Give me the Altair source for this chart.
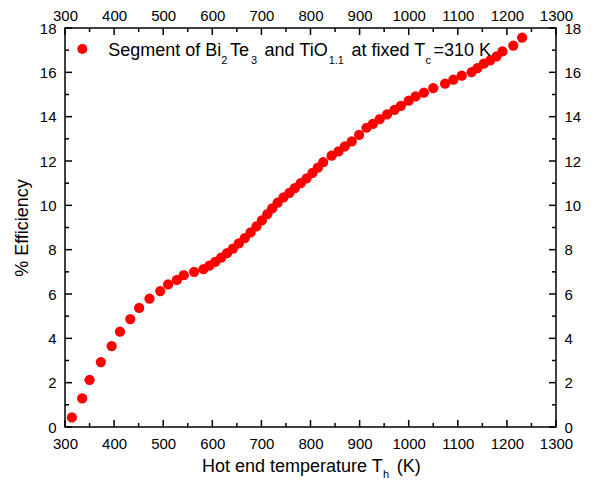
import altair as alt
import pandas as pd

# ---- data ----
temps = [314, 335, 350, 373, 395, 412, 433, 451, 472, 494, 510, 528, 542, 563,
         582, 594, 606, 618, 630, 642, 654, 666, 678, 690, 701, 712, 722, 733,
         745, 757, 768, 780, 792, 804, 815, 826, 843, 857, 870, 884, 899, 914,
         927, 941, 956, 971, 984, 1000, 1014, 1031, 1050, 1074, 1091, 1108,
         1128, 1140, 1153, 1166, 1179, 1191, 1213, 1231]
eff = [0.43, 1.29, 2.13, 2.93, 3.65, 4.3, 4.87, 5.37, 5.79, 6.13, 6.43, 6.64, 6.85, 7.0,
       7.12, 7.28, 7.45, 7.64, 7.84, 8.05, 8.28, 8.52, 8.78, 9.05, 9.32, 9.6, 9.86, 10.12,
       10.36, 10.56, 10.78, 11.0, 11.22, 11.46, 11.7, 11.95, 12.24, 12.43, 12.66, 12.88, 13.18, 13.5,
       13.67, 13.89, 14.1, 14.31, 14.49, 14.72, 14.91, 15.09, 15.29, 15.49, 15.67, 15.85,
       16.01, 16.19, 16.39, 16.54, 16.72, 16.94, 17.21, 17.57]

x_major = list(range(300, 1301, 100))
x_minor = list(range(350, 1300, 100))
y_major = list(range(0, 19, 2))
y_minor = list(range(1, 18, 2))

legend_parts = [("Segment of Bi", False), ("2", True), ("Te", False), ("3", True),
                (" and TiO", False), ("1.1", True), (" at fixed T", False), ("c", True),
                ("=310 K", False)]
xtitle_parts = [("Hot end temperature T", False), ("h", True), (" (K)", False)]
ytitle = "% Efficiency"

# ---- layout ----
W, H = 491, 399
FONT = "Liberation Sans"
MAIN_FS, SUB_FS = 18, 11
RED = "#ff0000"

AW = {'S': 667, 'e': 556, 'g': 556, 'm': 833, 'n': 556, 't': 278, ' ': 278, 'o': 556,
      'f': 278, 'B': 667, 'i': 222, 'T': 611, 'a': 556, 'd': 556, 'O': 778, '1': 556,
      '2': 556, '3': 556, '0': 556, '.': 278, 'x': 500, 'c': 500, '=': 584, 'K': 667,
      'H': 722, 'h': 556, 'r': 333, 'p': 556, 'u': 556, '(': 333, ')': 333}


def twidth(s, fs):
    return sum(AW.get(ch, 556) for ch in s) * fs / 1000.0


def rich_text(parts, x0, base, sub_drop=8, sub_gap=2.5):
    layers = []
    x = x0
    for txt, sub in parts:
        fs = SUB_FS if sub else MAIN_FS
        lead = len(txt) - len(txt.lstrip(" "))
        xs_ = x + twidth(" " * lead, fs)
        layers.append(
            alt.Chart(pd.DataFrame({"t": [txt.strip()]})).mark_text(
                align="left", baseline="alphabetic", font=FONT, fontSize=fs, color="black"
            ).encode(text="t:N", x=alt.value(xs_), y=alt.value(base + (sub_drop if sub else 0)))
        )
        x += twidth(txt, fs) + (sub_gap if sub else 0)
    return layers


df = pd.DataFrame({"T": temps, "E": eff})
xsc = alt.Scale(domain=[300, 1300], nice=False, zero=False)
ysc = alt.Scale(domain=[0, 18], nice=False, zero=False)

ax = dict(ticks=False, tickSize=0, domain=False, grid=False, labelFontSize=15,
          labelFont=FONT, labelColor="black", format="d",
          labelOverlap=False, labelFlush=False)

points = alt.Chart(df).mark_circle(color=RED, opacity=1, size=105).encode(
    x=alt.X("T:Q", scale=xsc, axis=alt.Axis(values=x_major, orient="bottom", title=None,
                                            labelPadding=9, **ax)),
    y=alt.Y("E:Q", scale=ysc, axis=alt.Axis(values=y_major, orient="left", title=ytitle,
                                            titleFontSize=18, titleFont=FONT,
                                            titleFontWeight="normal", titleColor="black",
                                            titlePadding=8, labelPadding=9, **ax)),
)

mirror = alt.Chart(df).mark_circle(opacity=0).encode(
    x=alt.X("T:Q", scale=xsc, axis=alt.Axis(values=x_major, orient="top", title=None,
                                            labelPadding=5, **ax)),
    y=alt.Y("E:Q", scale=ysc, axis=alt.Axis(values=y_major, orient="right", title=None,
                                            labelPadding=8, **ax)),
)


def xticks(vals, length, top):
    return alt.Chart(pd.DataFrame({"v": vals})).mark_rule(color="black", strokeWidth=1.5).encode(
        x=alt.X("v:Q", scale=xsc, axis=None),
        y=alt.value(0 if top else H), y2=alt.value(length if top else H - length))


def yticks(vals, length, right):
    return alt.Chart(pd.DataFrame({"v": vals})).mark_rule(color="black", strokeWidth=1.5).encode(
        y=alt.Y("v:Q", scale=ysc, axis=None),
        x=alt.value(W if right else 0), x2=alt.value(W - length if right else length))


tick_layers = [xticks(x_major, 7, False), xticks(x_minor, 4, False),
               xticks(x_major, 7, True), xticks(x_minor, 4, True),
               yticks(y_major, 7, False), yticks(y_minor, 4, False),
               yticks(y_major, 7, True), yticks(y_minor, 4, True)]

legend_dot = alt.Chart(pd.DataFrame({"k": [0]})).mark_circle(color=RED, opacity=1, size=100).encode(
    x=alt.value(17.3), y=alt.value(21))

legend_text = rich_text(legend_parts, 43.3, 27.5)
xtitle_text = rich_text(xtitle_parts, 137, 444, sub_drop=6)

chart = alt.layer(points, mirror, *tick_layers, legend_dot, *legend_text, *xtitle_text).resolve_axis(
    x="independent", y="independent"
).properties(
    width=W, height=H, autosize=alt.AutoSizeParams(type="none"),
    padding={"left": 57, "top": 20, "right": 32, "bottom": 52},
).configure_view(stroke="black", strokeWidth=1.5)

chart.save("out.html", embed_options={"renderer": "svg", "actions": False})
